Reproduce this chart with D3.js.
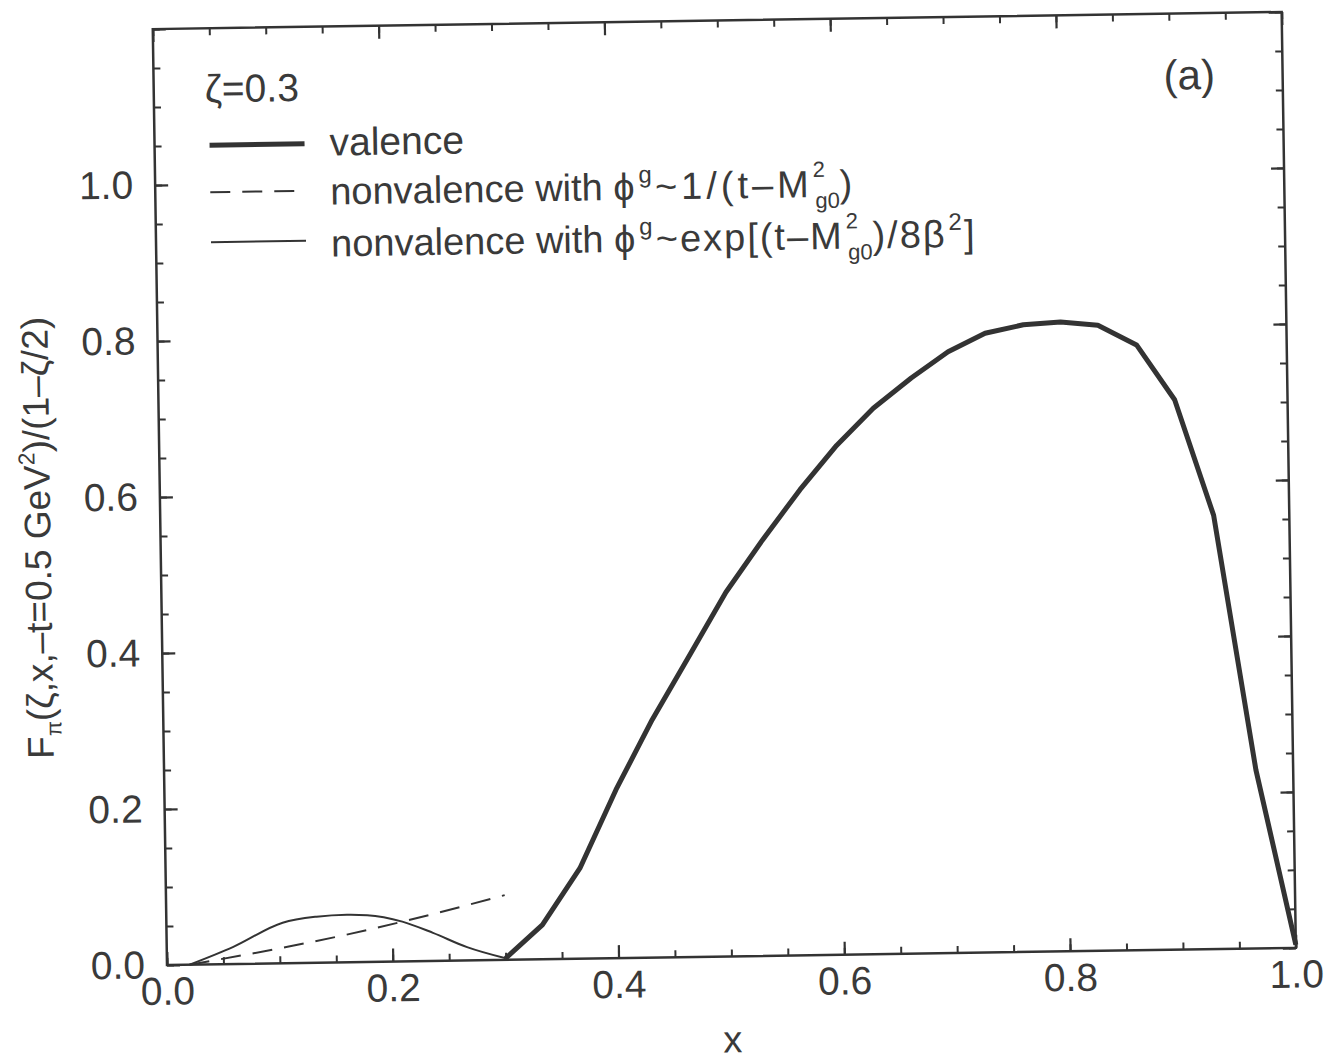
<!DOCTYPE html>
<html>
<head>
<meta charset="utf-8">
<script src="https://cdn.jsdelivr.net/npm/d3@7"></script>
<style>
body { margin: 0; background: #fff; }
text { font-family: "Liberation Sans", Arial, sans-serif; fill: #3a3a3a; }
</style>
</head>
<body>
<script>
// values (zeta = 0.3)
const valenceX = [0.300, 0.333, 0.367, 0.400, 0.433, 0.467, 0.500, 0.533, 0.567, 0.600, 0.633,
                  0.667, 0.700, 0.733, 0.767, 0.800, 0.833, 0.867, 0.900, 0.933, 0.967, 1.000]
const valenceY = [0.002, 0.044, 0.116, 0.216, 0.305, 0.387, 0.467, 0.533, 0.597, 0.653, 0.700,
                  0.738, 0.771, 0.794, 0.804, 0.807, 0.802, 0.776, 0.705, 0.556, 0.229, 0.004]

const poleX = [0.020, 0.107, 0.178, 0.209, 0.267, 0.300]
const poleY = [0.000, 0.021, 0.041, 0.051, 0.071, 0.083]

const gaussX = [0.020, 0.059, 0.103, 0.133, 0.160, 0.178, 0.209, 0.236, 0.266, 0.300]
const gaussY = [0.000, 0.022, 0.052, 0.059, 0.061, 0.060, 0.051, 0.036, 0.017, 0.002]

const xMajor = [0, 0.2, 0.4, 0.6, 0.8, 1.0]
const yMajor = [0, 0.2, 0.4, 0.6, 0.8, 1.0, 1.2]
const yLabels = [0, 0.2, 0.4, 0.6, 0.8, 1.0]

const W = 1329, H = 1060
const plotW = 1129, plotH = 936
const ink = "#333"

let svg = d3.select("body").append("svg").attr("width", W).attr("height", H)

// the scan is slightly tilted, so the whole figure gets a small rotation
let g = svg.append("g")
    .attr("transform", "translate(167,965) rotate(-0.87) translate(0," + (-plotH) + ")")

let x = d3.scaleLinear().domain([0, 1]).range([0, plotW])
let y = d3.scaleLinear().domain([0, 1.2]).range([plotH, 0])

let xMinor = d3.range(0, 1.0001, 0.05)
let yMinor = d3.range(0, 1.2001, 0.05)

function styleAxis(sel, width) {
    sel.select(".domain").remove()
    sel.selectAll("line").attr("stroke", ink).attr("stroke-width", width)
    sel.selectAll("text").attr("font-size", 39).attr("fill", "#333")
        .attr("font-family", "Liberation Sans, Arial, sans-serif")
}

// minor ticks on all four sides
g.append("g").attr("transform", "translate(0," + plotH + ")")
    .call(d3.axisBottom(x).tickValues(xMinor).tickSize(-7).tickFormat(""))
    .call(s => styleAxis(s, 2))
g.append("g")
    .call(d3.axisTop(x).tickValues(xMinor).tickSize(-7).tickFormat(""))
    .call(s => styleAxis(s, 2))
g.append("g")
    .call(d3.axisLeft(y).tickValues(yMinor).tickSize(-7).tickFormat(""))
    .call(s => styleAxis(s, 2))
g.append("g").attr("transform", "translate(" + plotW + ",0)")
    .call(d3.axisRight(y).tickValues(yMinor).tickSize(-7).tickFormat(""))
    .call(s => styleAxis(s, 2))

// major ticks with labels
g.append("g").attr("transform", "translate(0," + plotH + ")")
    .call(d3.axisBottom(x).tickValues(xMajor).tickSize(-13).tickPadding(12).tickFormat(d3.format(".1f")))
    .call(s => styleAxis(s, 2.2))
g.append("g")
    .call(d3.axisTop(x).tickValues(xMajor).tickSize(-13).tickFormat(""))
    .call(s => styleAxis(s, 2.2))
g.append("g")
    .call(d3.axisLeft(y).tickValues(yMajor).tickSize(-13).tickPadding(22)
        .tickFormat(d => yLabels.includes(d) ? d3.format(".1f")(d) : ""))
    .call(s => styleAxis(s, 2.2))
g.append("g").attr("transform", "translate(" + plotW + ",0)")
    .call(d3.axisRight(y).tickValues(yMajor).tickSize(-13).tickFormat(""))
    .call(s => styleAxis(s, 2.2))

g.append("rect")
    .attr("width", plotW).attr("height", plotH)
    .attr("fill", "none").attr("stroke", ink).attr("stroke-width", 2.5)

// curves
let lineLin = d3.line().x(d => x(d[0])).y(d => y(d[1]))
let lineSmooth = d3.line().x(d => x(d[0])).y(d => y(d[1])).curve(d3.curveMonotoneX)

g.append("path")
    .datum(d3.zip(gaussX, gaussY))
    .attr("d", lineSmooth)
    .attr("fill", "none").attr("stroke", ink).attr("stroke-width", 2)

g.append("path")
    .datum(d3.zip(poleX, poleY))
    .attr("d", lineSmooth)
    .attr("fill", "none").attr("stroke", ink).attr("stroke-width", 2)
    .attr("stroke-dasharray", "20,12")

g.append("path")
    .datum(d3.zip(valenceX, valenceY))
    .attr("d", lineLin)
    .attr("fill", "none").attr("stroke", ink).attr("stroke-width", 5)
    .attr("stroke-linejoin", "round")

// legend
let leg = g.append("g")
leg.append("text").attr("x", 51).attr("y", 74).attr("font-size", 39)
    .attr("font-family", "DejaVu Sans Condensed, Liberation Sans Narrow, sans-serif")
    .text("ζ=0.3")

let legendRows = [
    { y: 117, width: 5, dash: null },
    { y: 164, width: 2, dash: "20,12" },
    { y: 214, width: 2, dash: null }
]
legendRows.forEach(r => {
    leg.append("line")
        .attr("x1", 55).attr("x2", 150).attr("y1", r.y).attr("y2", r.y)
        .attr("stroke", ink).attr("stroke-width", r.width)
        .attr("stroke-dasharray", r.dash)
})

leg.append("text").attr("x", 175).attr("y", 129).attr("font-size", 39).text("valence")

let t2 = leg.append("text").attr("x", 175).attr("y", 178).attr("font-size", 38)
t2.append("tspan").text("nonvalence with ϕ")
t2.append("tspan").attr("font-size", 24).attr("dx", 4).attr("dy", -17).text("g")
t2.append("tspan").attr("letter-spacing", 4).attr("dx", 3).attr("dy", 17).text("~1/(t–M")
t2.append("tspan").attr("font-size", 22).attr("dx", 0).attr("dy", -20).text("2")
t2.append("tspan").attr("font-size", 22).attr("dx", -10).attr("dy", 31).text("g0")
t2.append("tspan").attr("dx", 0).attr("dy", -11).text(")")

let t3 = leg.append("text").attr("x", 175).attr("y", 230).attr("font-size", 38)
t3.append("tspan").text("nonvalence with ϕ")
t3.append("tspan").attr("font-size", 24).attr("dx", 4).attr("dy", -17).text("g")
t3.append("tspan").attr("letter-spacing", 2).attr("dx", 3).attr("dy", 17).text("~exp[(t–M")
t3.append("tspan").attr("font-size", 22).attr("dx", 2).attr("dy", -20).text("2")
t3.append("tspan").attr("font-size", 22).attr("dx", -10).attr("dy", 31).text("g0")
t3.append("tspan").attr("letter-spacing", 2).attr("dx", 0).attr("dy", -11).text(")/8β")
t3.append("tspan").attr("font-size", 24).attr("dx", 2).attr("dy", -17).text("2")
t3.append("tspan").attr("dx", 2).attr("dy", 17).text("]")

g.append("text").attr("x", 1010).attr("y", 76).attr("font-size", 42)
    .attr("font-family", "Liberation Sans Narrow, Liberation Sans, sans-serif")
    .text("(a)")

// axis titles
g.append("text")
    .attr("x", x(0.5)).attr("y", plotH + 96)
    .attr("text-anchor", "middle").attr("font-size", 38)
    .text("x")

let yt = g.append("text")
    .attr("transform", "translate(-110," + y(0.55) + ") rotate(-90)")
    .attr("text-anchor", "middle").attr("font-size", 37)
yt.append("tspan").text("F")
yt.append("tspan").attr("font-size", 22).attr("dy", 8).text("π")
yt.append("tspan").attr("dy", -8).text("(ζ,x,–t=0.5 GeV")
yt.append("tspan").attr("font-size", 23).attr("dy", -15).text("2")
yt.append("tspan").attr("dy", 15).text(")/(1–ζ/2)")
</script>
</body>
</html>
